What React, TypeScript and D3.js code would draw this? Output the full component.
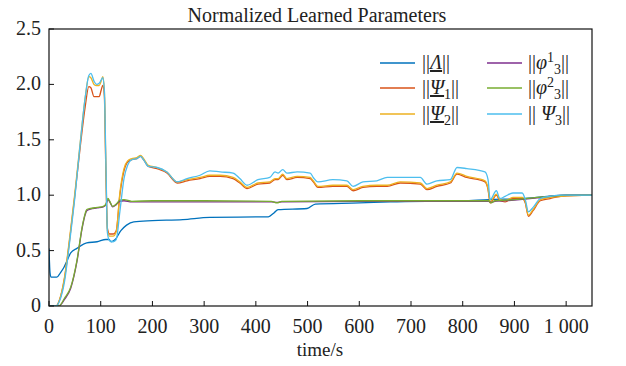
import * as d3 from 'd3';

const W = 626;
const H = 366;
const MARGIN = { top: 29, right: 34, bottom: 60, left: 49 };

// tick values + labels
const xTicks = [0, 100, 200, 300, 400, 500, 600, 700, 800, 900, 1000];
const xTickLabels = ['0', '100', '200', '300', '400', '500', '600', '700', '800', '900', '1 000'];
const yTicks = [0, 0.5, 1, 1.5, 2, 2.5];
const yTickLabels = ['0', '0.5', '1.0', '1.5', '2.0', '2.5'];

// time grid for the Psi curves
const tPsi = [0, 14, 20, 30, 40, 50, 60, 70, 77, 81, 87, 92, 97, 101, 104, 107, 110, 113, 117, 124, 130, 137, 145, 152, 160, 170, 177, 183, 192, 209, 228, 248, 267, 292, 311, 331, 356, 369, 383, 404, 427, 437, 443, 452, 460, 480, 505, 511, 520, 549, 576, 588, 607, 634, 654, 679, 718, 731, 750, 776, 789, 808, 843, 849, 853, 865, 872, 882, 897, 915, 921, 927, 936, 950, 969, 990, 1050];
const psi1 = [0, 0, 0.05, 0.25, 0.6, 1.0, 1.42, 1.8, 1.98, 1.97, 1.89, 1.89, 1.89, 1.95, 1.99, 1.9, 1.2, 0.7, 0.65, 0.65, 0.68, 1.0, 1.22, 1.3, 1.32, 1.33, 1.35, 1.32, 1.26, 1.24, 1.2, 1.11, 1.13, 1.15, 1.17, 1.17, 1.15, 1.11, 1.06, 1.1, 1.11, 1.14, 1.14, 1.18, 1.14, 1.16, 1.15, 1.12, 1.07, 1.08, 1.08, 1.04, 1.07, 1.08, 1.08, 1.11, 1.1, 1.05, 1.08, 1.11, 1.19, 1.16, 1.12, 1.05, 0.93, 1.0, 0.95, 0.94, 0.97, 0.97, 0.93, 0.81, 0.86, 0.95, 0.97, 0.99, 1.0];
const psi2 = [0, 0, 0.05, 0.26, 0.62, 1.02, 1.46, 1.88, 2.07, 2.06, 2.0, 1.99, 1.99, 2.03, 2.07, 1.95, 1.25, 0.68, 0.63, 0.63, 0.67, 1.02, 1.24, 1.31, 1.33, 1.34, 1.36, 1.33, 1.27, 1.25, 1.21, 1.12, 1.14, 1.16, 1.18, 1.18, 1.16, 1.12, 1.07, 1.11, 1.12, 1.15, 1.15, 1.19, 1.15, 1.17, 1.16, 1.13, 1.08, 1.09, 1.09, 1.05, 1.08, 1.09, 1.09, 1.12, 1.11, 1.06, 1.09, 1.12, 1.2, 1.17, 1.13, 1.06, 0.94, 1.01, 0.96, 0.95, 0.98, 0.98, 0.94, 0.82, 0.87, 0.96, 0.98, 0.99, 1.0];
const psi3 = [0, 0, 0.04, 0.22, 0.58, 0.98, 1.45, 1.88, 2.08, 2.1, 2.03, 2.0, 2.01, 2.04, 2.06, 1.95, 1.3, 0.66, 0.59, 0.58, 0.6, 0.85, 1.15, 1.27, 1.32, 1.33, 1.35, 1.32, 1.26, 1.25, 1.21, 1.12, 1.15, 1.18, 1.22, 1.21, 1.2, 1.15, 1.09, 1.14, 1.16, 1.21, 1.2, 1.23, 1.2, 1.21, 1.2, 1.16, 1.12, 1.14, 1.13, 1.08, 1.12, 1.13, 1.16, 1.16, 1.16, 1.1, 1.13, 1.14, 1.25, 1.24, 1.21, 1.14, 0.96, 1.04, 0.97, 0.99, 1.02, 1.02, 0.96, 0.85, 0.89, 0.97, 0.99, 1.0, 1.0];

// time grid for the phi curves
const tPhi = [0, 19, 30, 42, 54, 64, 68, 73, 80, 93, 105, 110, 114, 118, 123, 130, 137, 145, 160, 200, 300, 430, 441, 450, 600, 800, 850, 855, 862, 900, 944, 970, 1000, 1050];
const phi1 = [0, 0, 0.06, 0.16, 0.4, 0.7, 0.79, 0.86, 0.875, 0.885, 0.895, 0.915, 0.96, 0.935, 0.895, 0.915, 0.945, 0.95, 0.94, 0.94, 0.94, 0.94, 0.935, 0.94, 0.945, 0.945, 0.945, 0.935, 0.945, 0.955, 0.975, 0.99, 1.0, 1.0];
const phi2 = [0, 0, 0.07, 0.17, 0.41, 0.71, 0.8, 0.87, 0.88, 0.89, 0.9, 0.92, 0.97, 0.94, 0.9, 0.92, 0.955, 0.96, 0.945, 0.95, 0.95, 0.945, 0.93, 0.945, 0.95, 0.95, 0.95, 0.93, 0.95, 0.96, 0.98, 0.99, 1.0, 1.0];

// time grid for Lambda
const tLam = [0, 2, 4, 15, 22, 29, 36, 42, 54, 73, 93, 110, 116, 120, 128, 139, 150, 164, 200, 259, 311, 424, 435, 443, 499, 515, 600, 660, 800, 850, 920, 1000, 1050];
const lam = [0.52, 0.3, 0.26, 0.26, 0.3, 0.35, 0.42, 0.48, 0.52, 0.57, 0.58, 0.6, 0.6, 0.58, 0.6, 0.68, 0.73, 0.76, 0.77, 0.78, 0.8, 0.805, 0.84, 0.87, 0.88, 0.92, 0.93, 0.94, 0.95, 0.96, 0.97, 1.0, 1.0];

const COLORS = {
    lam: '#0072BD',
    psi1: '#D95319',
    psi2: '#EDB120',
    phi1: '#7E2F8E',
    phi2: '#77AC30',
    psi3: '#4DBEEE',
};

const FONT = '"Liberation Serif", "Times New Roman", serif';

export default function App() {
    const x0 = MARGIN.left;
    const x1 = W - MARGIN.right;
    const y0 = H - MARGIN.bottom;
    const y1 = MARGIN.top;

    const xScale = d3.scaleLinear().domain([0, 1050]).range([x0, x1]);
    const yScale = d3.scaleLinear().domain([0, 2.5]).range([y0, y1]);

    const line = d3
        .line<[number, number]>()
        .x(d => xScale(d[0]))
        .y(d => yScale(d[1]))
        .curve(d3.curveMonotoneX);

    const mk = (t: number[], v: number[]) => line(t.map((tt, i) => [tt, v[i]] as [number, number])) ?? '';

    // plotted in MATLAB order so Psi3 lands on top
    const series = [
        { key: 'lam', d: mk(tLam, lam) },
        { key: 'psi1', d: mk(tPsi, psi1) },
        { key: 'psi2', d: mk(tPsi, psi2) },
        { key: 'phi1', d: mk(tPhi, phi1) },
        { key: 'phi2', d: mk(tPhi, phi2) },
        { key: 'psi3', d: mk(tPsi, psi3) },
    ];

    const legendRows = [63, 88, 114];
    const legendCols = [380, 487];

    return (
        <svg width={W} height={H} style={{ position: 'absolute', left: 0, top: 0, background: '#fff' }} fontFamily={FONT}>
            <defs>
                <clipPath id="plotclip">
                    <rect x={x0} y={y1} width={x1 - x0} height={y0 - y1} />
                </clipPath>
            </defs>

            {/* title */}
            <text x={317} y={22} textAnchor="middle" fontSize={20} fill="#222">
                Normalized Learned Parameters
            </text>

            {/* curves */}
            <g clipPath="url(#plotclip)">
                {series.map(s => (
                    <path key={s.key} d={s.d} fill="none" stroke={COLORS[s.key]} strokeWidth={1.3} strokeLinejoin="round" />
                ))}
            </g>

            {/* frame */}
            <rect x={x0} y={y1} width={x1 - x0} height={y0 - y1} fill="none" stroke="#111" strokeWidth={1.2} />

            {/* x ticks */}
            {xTicks.map((v, i) => (
                <g key={'x' + i}>
                    <line x1={xScale(v)} x2={xScale(v)} y1={y0} y2={y0 - 5} stroke="#111" />
                    <text x={xScale(v)} y={333} textAnchor="middle" fontSize={20} fill="#222">
                        {xTickLabels[i]}
                    </text>
                </g>
            ))}

            {/* y ticks */}
            {yTicks.map((v, i) => (
                <g key={'y' + i}>
                    <line x1={x0} x2={x0 + 5} y1={yScale(v)} y2={yScale(v)} stroke="#111" />
                    <text x={41} y={yScale(v) + 6} textAnchor="end" fontSize={20} fill="#222">
                        {yTickLabels[i]}
                    </text>
                </g>
            ))}

            <text x={320} y={356} textAnchor="middle" fontSize={19} fill="#222">
                time/s
            </text>

            {/* legend */}
            <g fontSize={20} fill="#222">
                {/* column 1 */}
                <line x1={legendCols[0]} x2={legendCols[0] + 35} y1={legendRows[0]} y2={legendRows[0]} stroke={COLORS.lam} strokeWidth={1.3} />
                <text x={legendCols[0] + 42} y={legendRows[0] + 6}>
                    ||<tspan fontStyle="italic" textDecoration="underline">Λ</tspan>||
                </text>
                <line x1={legendCols[0]} x2={legendCols[0] + 35} y1={legendRows[1]} y2={legendRows[1]} stroke={COLORS.psi1} strokeWidth={1.3} />
                <text x={legendCols[0] + 42} y={legendRows[1] + 6}>
                    ||<tspan fontStyle="italic" textDecoration="underline">Ψ</tspan>
                    <tspan fontSize={14} dy={5}>1</tspan>
                    <tspan dy={-5}>||</tspan>
                </text>
                <line x1={legendCols[0]} x2={legendCols[0] + 35} y1={legendRows[2]} y2={legendRows[2]} stroke={COLORS.psi2} strokeWidth={1.3} />
                <text x={legendCols[0] + 42} y={legendRows[2] + 6}>
                    ||<tspan fontStyle="italic" textDecoration="underline">Ψ</tspan>
                    <tspan fontSize={14} dy={5}>2</tspan>
                    <tspan dy={-5}>||</tspan>
                </text>

                {/* column 2 */}
                <line x1={legendCols[1]} x2={legendCols[1] + 35} y1={legendRows[0]} y2={legendRows[0]} stroke={COLORS.phi1} strokeWidth={1.3} />
                <text x={legendCols[1] + 41} y={legendRows[0] + 6}>
                    ||<tspan fontStyle="italic">φ</tspan>
                    <tspan fontSize={14} dy={-7}>1</tspan>
                    <tspan fontSize={14} dy={12}>3</tspan>
                    <tspan dy={-5}>||</tspan>
                </text>
                <line x1={legendCols[1]} x2={legendCols[1] + 35} y1={legendRows[1]} y2={legendRows[1]} stroke={COLORS.phi2} strokeWidth={1.3} />
                <text x={legendCols[1] + 41} y={legendRows[1] + 6}>
                    ||<tspan fontStyle="italic">φ</tspan>
                    <tspan fontSize={14} dy={-7}>2</tspan>
                    <tspan fontSize={14} dy={12}>3</tspan>
                    <tspan dy={-5}>||</tspan>
                </text>
                <line x1={legendCols[1]} x2={legendCols[1] + 35} y1={legendRows[2]} y2={legendRows[2]} stroke={COLORS.psi3} strokeWidth={1.3} />
                <text x={legendCols[1] + 41} y={legendRows[2] + 6}>
                    || <tspan fontStyle="italic">Ψ</tspan>
                    <tspan fontSize={14} dy={5}>3</tspan>
                    <tspan dy={-5}>||</tspan>
                </text>
            </g>
        </svg>
    );
}
